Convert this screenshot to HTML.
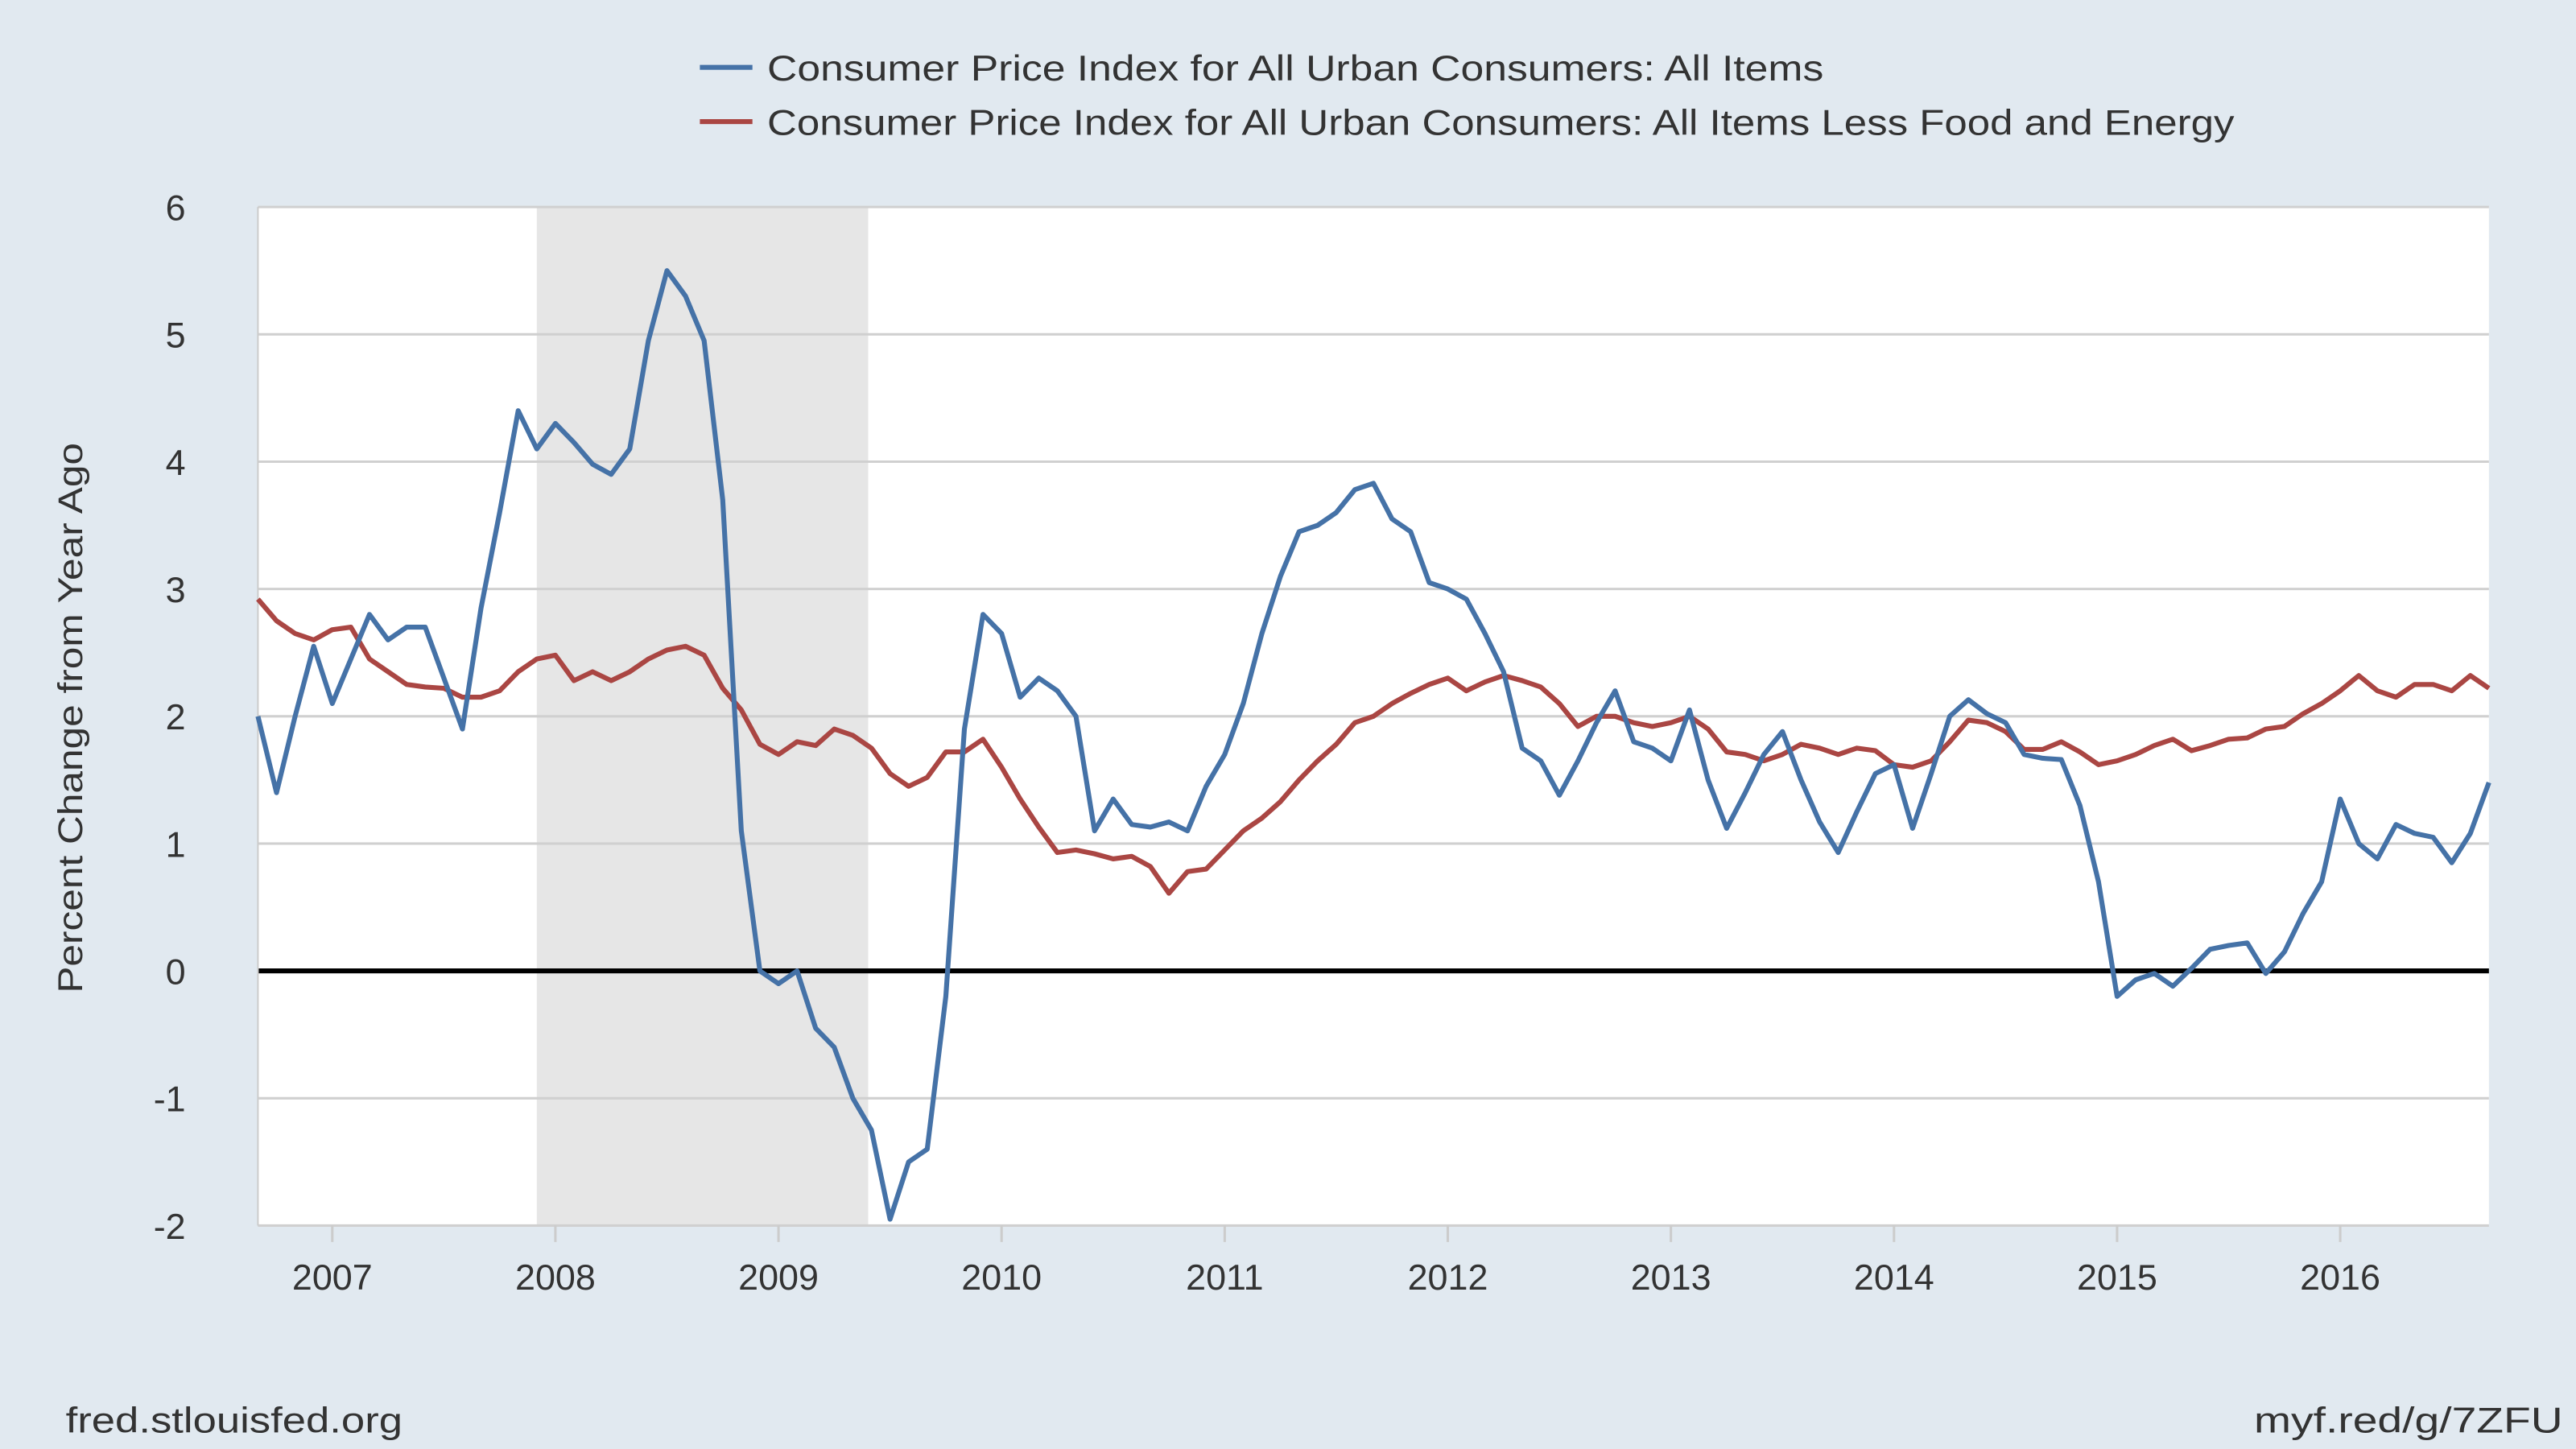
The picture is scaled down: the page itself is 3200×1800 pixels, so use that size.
<!DOCTYPE html>
<html><head><meta charset="utf-8"><style>
html,body{margin:0;padding:0;background:#e1e9f0;}
svg{display:block;font-family:"Liberation Sans",sans-serif;}
</style></head><body>
<svg id="chart" width="3200" height="1800" viewBox="0 0 1568 882" xmlns="http://www.w3.org/2000/svg">
<rect width="1568" height="882" fill="#e1e9f0"/>
<g>
  <g><line x1="426" y1="41" x2="458" y2="41" stroke="#4572a7" stroke-width="3"/><text x="467" y="49" font-size="22" fill="#333" textLength="643" lengthAdjust="spacingAndGlyphs">Consumer Price Index for All Urban Consumers: All Items</text></g>
  <g><line x1="426" y1="74" x2="458" y2="74" stroke="#aa4643" stroke-width="3"/><text x="467" y="82" font-size="22" fill="#333" textLength="893" lengthAdjust="spacingAndGlyphs">Consumer Price Index for All Urban Consumers: All Items Less Food and Energy</text></g>
</g>
<rect x="157" y="126" width="1358" height="620" fill="#fff"/>
<g id="rec"></g><g id="grid"></g><g id="ticks"></g><g id="series"></g>
<text transform="translate(50,437) rotate(-90)" text-anchor="middle" font-size="21" fill="#333" textLength="335" lengthAdjust="spacingAndGlyphs">Percent Change from Year Ago</text>
<text x="40" y="872" font-size="22" fill="#333" textLength="205" lengthAdjust="spacingAndGlyphs">fred.stlouisfed.org</text>
<text x="1372" y="872" font-size="22" fill="#333" textLength="188" lengthAdjust="spacingAndGlyphs">myf.red/g/7ZFU</text>
</svg>
<script>
const startYear = 2006 + 8/12;
const cpi = [2.0,1.4,2.0,2.55,
2.1,2.45,2.8,2.6,2.7,2.7,2.3,1.9,2.85,3.6,4.4,4.1,
4.3,4.15,3.98,3.9,4.1,4.95,5.5,5.3,4.95,3.7,1.1,0.0,
-0.1,0.0,-0.45,-0.6,-1.0,-1.25,-1.95,-1.5,-1.4,-0.2,1.9,2.8,
2.65,2.15,2.3,2.2,2.0,1.1,1.35,1.15,1.13,1.17,1.1,1.45,
1.7,2.1,2.65,3.1,3.45,3.5,3.6,3.78,3.83,3.55,3.45,3.05,
3.0,2.92,2.65,2.35,1.75,1.65,1.38,1.65,1.95,2.2,1.8,1.75,
1.65,2.05,1.5,1.12,1.4,1.7,1.88,1.5,1.17,0.93,1.25,1.55,
1.62,1.12,1.55,2.0,2.13,2.02,1.95,1.7,1.67,1.66,1.3,0.7,
-0.2,-0.07,-0.02,-0.12,0.02,0.17,0.2,0.22,-0.02,0.15,0.45,0.7,
1.35,1.0,0.88,1.15,1.08,1.05,0.85,1.08,1.48];
const core = [2.92,2.75,2.65,2.6,
2.68,2.7,2.45,2.35,2.25,2.23,2.22,2.15,2.15,2.2,2.35,2.45,
2.48,2.28,2.35,2.28,2.35,2.45,2.52,2.55,2.48,2.22,2.05,1.78,
1.7,1.8,1.77,1.9,1.85,1.75,1.55,1.45,1.52,1.72,1.72,1.82,
1.6,1.35,1.13,0.93,0.95,0.92,0.88,0.9,0.82,0.61,0.78,0.8,
0.95,1.1,1.2,1.33,1.5,1.65,1.78,1.95,2.0,2.1,2.18,2.25,
2.3,2.2,2.27,2.32,2.28,2.23,2.1,1.92,2.0,2.0,1.95,1.92,
1.95,2.0,1.9,1.72,1.7,1.65,1.7,1.78,1.75,1.7,1.75,1.73,
1.62,1.6,1.65,1.8,1.97,1.95,1.88,1.74,1.74,1.8,1.72,1.62,
1.65,1.7,1.77,1.82,1.73,1.77,1.82,1.83,1.9,1.92,2.02,2.1,
2.2,2.32,2.2,2.15,2.25,2.25,2.2,2.32,2.22];
const yTicks = [-2,-1,0,1,2,3,4,5,6];
const xYears = [2007,2008,2009,2010,2011,2012,2013,2014,2015,2016];
const recession = [2007+11/12, 2009+5/12];
const NS="http://www.w3.org/2000/svg";
const X0=157,X1=1515,Y0=746,Y1=126,T0=startYear,T1=startYear+120/12;
function xs(t){return X0+(t-T0)/(T1-T0)*(X1-X0);}
function ys(v){return Y0-(v+2)/8*(Y0-Y1);}
function mk(tag,attrs,parent){const e=document.createElementNS(NS,tag);for(const k in attrs)e.setAttribute(k,attrs[k]);document.getElementById(parent).appendChild(e);return e;}
let r=mk('rect',{x:xs(recession[0]),y:Y1,width:xs(recession[1])-xs(recession[0])-2,height:Y0-Y1,fill:'#e6e6e6'},'rec');


yTicks.forEach(v=>{
  let l=mk('line',{x1:X0,x2:X1,y1:ys(v),y2:ys(v),stroke:v===0?'#000':'#d0d0d0','stroke-width':v===0?3:1.5},'grid');
  
  
  let t=mk('text',{x:113,y:ys(v)+8,'text-anchor':'end','font-size':22,fill:'#333'},'ticks');
  t.textContent=v;
  
  
});
let ax=mk('line',{x1:X0,x2:X0,y1:Y1,y2:Y0,stroke:'#ccc','stroke-width':1},'grid');


xYears.forEach(y=>{
  let l=mk('line',{x1:xs(y),x2:xs(y),y1:Y0,y2:Y0+10,stroke:'#ccc','stroke-width':1.5},'ticks');
  
  
  let t=mk('text',{x:xs(y),y:785,'text-anchor':'middle','font-size':22,fill:'#333'},'ticks');
  t.textContent=y;
  
  
});
function line(data,color,name){
  const d=data.map((v,i)=>(i?'L':'M')+xs(T0+i/12).toFixed(2)+','+ys(v).toFixed(2)).join('');
  let p=mk('path',{d:d,fill:'none',stroke:color,'stroke-width':3,'stroke-linejoin':'round'},'series');
  
  
}
line(core,'#aa4643','core-cpi-line');
line(cpi,'#4572a7','cpi-line');
</script>
</body></html>
